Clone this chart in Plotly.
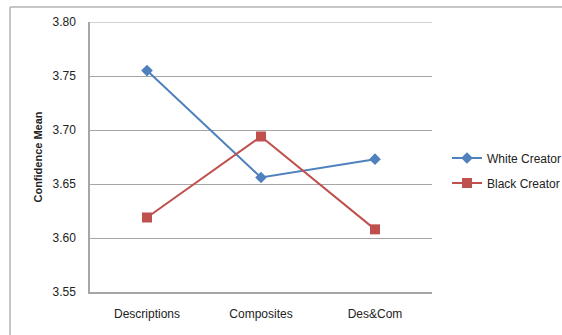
import plotly.graph_objects as go

categories = ["Descriptions", "Composites", "Des&Com"]
white_creator = [3.755, 3.656, 3.673]
black_creator = [3.619, 3.694, 3.608]
y_ticks = [3.55, 3.60, 3.65, 3.70, 3.75, 3.80]
y_labels = ["3.55", "3.60", "3.65", "3.70", "3.75", "3.80"]

FONT = "Liberation Sans"

L, R, T, B = 90, 562 - 432, 22, 335 - 292
W, H = 562, 335
pw, ph = W - L - R, H - T - B

fig = go.Figure()
fig.add_trace(go.Scatter(
    x=categories, y=white_creator, name="White Creator", mode="lines+markers",
    line=dict(color="#4F81BD", width=2),
    marker=dict(symbol="diamond", size=9, color="#4F81BD"),
    legend="legend",
))
fig.add_trace(go.Scatter(
    x=categories, y=black_creator, name="Black Creator", mode="lines+markers",
    line=dict(color="#C0504D", width=2),
    marker=dict(symbol="square", size=10, color="#C0504D"),
    legend="legend2",
))

# outer chart frame (left and top edges visible)
fig.add_shape(type="line", xref="paper", yref="paper",
              x0=(10 - L) / pw, x1=(10 - L) / pw,
              y0=(H - B - 340) / ph, y1=(H - B - 7) / ph,
              line=dict(color="#B3B3B3", width=1.5), layer="below")
fig.add_shape(type="line", xref="paper", yref="paper",
              x0=(10 - L) / pw, x1=(565 - L) / pw,
              y0=(H - B - 7) / ph, y1=(H - B - 7) / ph,
              line=dict(color="#B3B3B3", width=1.5), layer="below")
# top gridline at range maximum
fig.add_shape(type="line", xref="paper", yref="y",
              x0=0, x1=1, y0=y_ticks[-1], y1=y_ticks[-1],
              line=dict(color="#A6A6A6", width=1.2), layer="below")

leg_common = dict(xanchor="left", yanchor="middle", xref="container", yref="container",
                  font=dict(family=FONT, size=12, color="#222222"),
                  itemwidth=30, bgcolor="rgba(0,0,0,0)", borderwidth=0)

fig.update_layout(
    width=W, height=H,
    margin=dict(l=L, r=R, t=T, b=B, autoexpand=False),
    paper_bgcolor="white", plot_bgcolor="white",
    font=dict(family=FONT, size=12, color="#222222"),
    showlegend=True,
    legend=dict(x=447 / W, y=(H - 158) / H, **leg_common),
    legend2=dict(x=447 / W, y=(H - 183) / H, **leg_common),
    xaxis=dict(type="category", range=[-0.5, 2.5], showgrid=False,
               showline=True, linecolor="#A6A6A6", linewidth=1.5,
               ticks="", tickfont=dict(size=12), ticklabelstandoff=10,
               fixedrange=True),
    yaxis=dict(range=[3.55, 3.80], tickvals=y_ticks, ticktext=y_labels,
               showgrid=True, gridcolor="#A6A6A6", gridwidth=1.2,
               showline=True, linecolor="#A6A6A6", linewidth=1.5,
               zeroline=False, ticks="", tickfont=dict(size=12),
               ticklabelstandoff=10,
               title=dict(text="<b>Confidence Mean</b>", font=dict(size=11), standoff=8)),
)

fig.write_html("out.html")
